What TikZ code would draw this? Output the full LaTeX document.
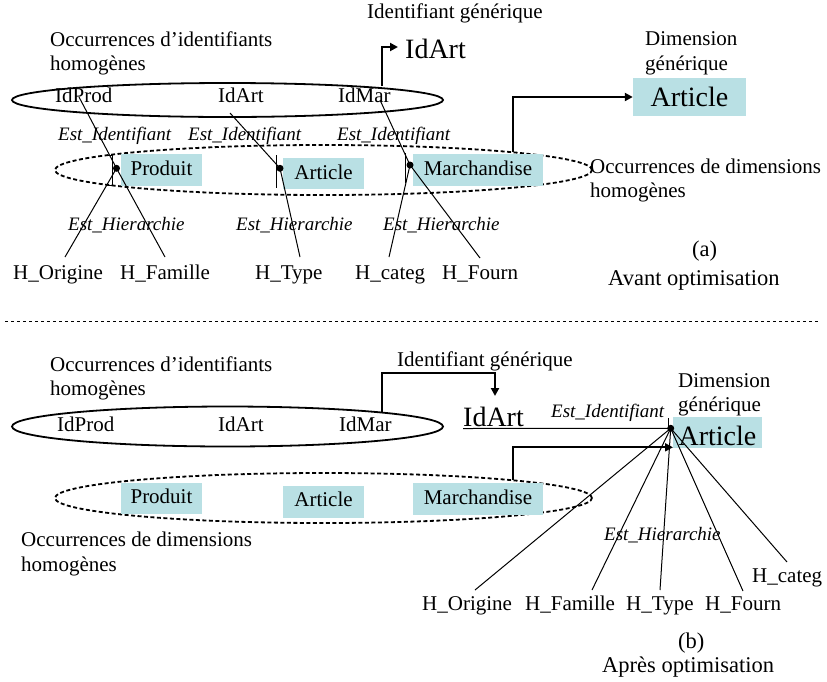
\documentclass[tikz,border=0pt]{standalone}
\usepackage{fontspec}
\setmainfont{Liberation Serif}
\usetikzlibrary{arrows.meta}
\definecolor{boxcol}{RGB}{185,224,228}
\begin{document}
\begin{tikzpicture}[x=1pt,y=-1pt,
  lab/.style={anchor=base west, inner sep=0pt, font=\fontsize{21}{24}\selectfont},
  rel/.style={anchor=base west, inner sep=0pt, font=\fontsize{19}{21}\selectfont\itshape},
  bigl/.style={anchor=base west, inner sep=0pt, font=\fontsize{28}{32}\selectfont},
  capt/.style={anchor=base west, inner sep=0pt, font=\fontsize{22.5}{26}\selectfont},
  dimbox/.style={fill=boxcol, anchor=base, inner xsep=0pt, inner ysep=0pt, text height=21pt, text depth=11pt, font=\fontsize{21}{24}\selectfont},
  bigbox/.style={dimbox, text height=28pt, font=\fontsize{28}{32}\selectfont},
  thinln/.style={line width=1pt},
  heavy/.style={line width=2.3pt, -{Triangle[length=8pt,width=8pt]}},
  solidell/.style={line width=1.8pt},
  dashell/.style={line width=1.8pt, dash pattern=on 4pt off 2.5pt},
  sepline/.style={line width=0.8pt, dash pattern=on 3pt off 3pt},
  jdot/.style={circle, fill=black, inner sep=0pt, minimum size=7pt}
]
\useasboundingbox (0,0) rectangle (827,681);

% ================= (a) =================
\draw[solidell] (227.5,100) ellipse [x radius=215.5pt, y radius=17pt];
\draw[dashell] (323.5,170) ellipse [x radius=268.5pt, y radius=25pt];

\node[lab] (occA1) at (50,46.5) {Occurrences d’identifiants};
\node[lab] (occA2) at (50,70) {homogènes};
\node[lab] (idgA) at (367,18) {Identifiant générique};
\node[bigl] (idartA) at (405,58.3) {IdArt};

\node[lab] (idprodA) at (55,102.3) {IdProd};
\node[lab] (idartsA) at (218,102.3) {IdArt};
\node[lab] (idmarA) at (338,102.3) {IdMar};

\node[rel] (eiA1) at (58,140.7) {Est\_Identifiant};
\node[rel] (eiA2) at (188,140.7) {Est\_Identifiant};
\node[rel] (eiA3) at (337,140.7) {Est\_Identifiant};

\node[dimbox, minimum width=81pt] (prodA) at (161.5,175) {Produit};
\node[dimbox, minimum width=81pt, text height=21.3pt, text depth=9.7pt] (artA) at (323.5,179.3) {Article};
\node[dimbox, minimum width=130pt] (marA) at (478,175) {Marchandise};

\node[lab] (dimA1) at (645,45) {Dimension};
\node[lab] (dimA2) at (645,70.7) {générique};
\node[bigbox, minimum width=113pt, text depth=10pt] (bigA) at (689.5,106) {Article};

\node[lab] (odA1) at (590,173) {Occurrences de dimensions};
\node[lab] (odA2) at (590,197) {homogènes};

\node[rel] (ehA1) at (68,230) {Est\_Hierarchie};
\node[rel] (ehA2) at (236,230) {Est\_Hierarchie};
\node[rel] (ehA3) at (383,230) {Est\_Hierarchie};

\node[lab] (hOrigA) at (13,279.3) {H\_Origine};
\node[lab] (hFamA) at (120,279.3) {H\_Famille};
\node[lab] (hTypeA) at (255,279.3) {H\_Type};
\node[lab] (hCatA) at (355,279.3) {H\_categ};
\node[lab] (hFourA) at (442,279.3) {H\_Fourn};

\node[capt] (capA) at (692,256.7) {(a)};
\node[capt] (avant) at (608,285) {Avant optimisation};

% joints
\node[jdot] (jP) at (116.5,168.3) {};
\node[jdot] (jA) at (280,168.3) {};
\node[jdot] (jM) at (410,165) {};
\draw[thinln] (108.3,155) -- (112.7,155) -- (112.7,185) -- (108.3,185);
\draw[thinln] (276,155) -- (276,188);
\draw[thinln] (405,153) -- (405,183);

\coordinate (sP) at (79,97);
\coordinate (sA) at (230,113);
\coordinate (sM) at (380,100);
\draw[thinln] (sP) -- (jP.center);
\draw[thinln] (sA) -- (jA.center);
\draw[thinln] (sM) -- (jM.center);

\coordinate (eOrigA) at (65,257);
\coordinate (eFamA) at (165,257);
\coordinate (eTypeA) at (300,257);
\coordinate (eCatA) at (389,257);
\coordinate (eFourA) at (480,258);
\draw[thinln] (jP.center) -- (eOrigA);
\draw[thinln] (jP.center) -- (eFamA);
\draw[thinln] (jA.center) -- (eTypeA);
\draw[thinln] (jM.center) -- (eCatA);
\draw[thinln] (jM.center) -- (eFourA);

% thick arrows
\coordinate (ellAtop) at (382,86);
\coordinate (tipA1) at (398,47);
\draw[heavy] (ellAtop) |- (tipA1);
\coordinate (dellAtop) at (513,152);
\draw[heavy] (dellAtop) |- (bigA.west);

% separator
\coordinate (sepL) at (5,321);
\coordinate (sepR) at (818,321);
\draw[sepline] (sepL) -- (sepR);

% ================= (b) =================
\draw[solidell] (227.5,426.5) ellipse [x radius=215.5pt, y radius=20pt];
\draw[dashell] (323.5,498) ellipse [x radius=268.5pt, y radius=25pt];

\node[lab] (occB1) at (50,371.7) {Occurrences d’identifiants};
\node[lab] (occB2) at (50,395) {homogènes};
\node[lab] (idgB) at (397,366) {Identifiant générique};

\node[lab] (idprodB) at (57,431.7) {IdProd};
\node[lab] (idartsB) at (218,431.7) {IdArt};
\node[lab] (idmarB) at (339,431.7) {IdMar};

\node[bigl] (idartB) at (463,426.7) {IdArt};
\node[rel] (eiB) at (551,417.3) {Est\_Identifiant};

\node[lab] (dimB1) at (678,387.3) {Dimension};
\node[lab] (dimB2) at (678,411.7) {générique};
\node[bigbox, minimum width=89pt, text depth=3pt] (bigB) at (717.5,445) {Article};

\node[dimbox, minimum width=81pt, text height=20.3pt, text depth=10.7pt] (prodB) at (161.5,503.3) {Produit};
\node[dimbox, minimum width=81pt, text height=20.7pt, text depth=11.3pt] (artB) at (323.5,506.7) {Article};
\node[dimbox, minimum width=130pt] (marB) at (478,504) {Marchandise};

\node[lab] (odB1) at (21,546.7) {Occurrences de dimensions};
\node[lab] (odB2) at (21,571.7) {homogènes};

\node[rel] (ehB) at (604,540) {Est\_Hierarchie};

\node[lab] (hCatB) at (752,582.7) {H\_categ};
\node[lab] (hOrigB) at (422,610.7) {H\_Origine};
\node[lab] (hFamB) at (525,610.7) {H\_Famille};
\node[lab] (hTypeB) at (626,610.7) {H\_Type};
\node[lab] (hFourB) at (705,610.7) {H\_Fourn};

\node[capt] (capB) at (678,648.3) {(b)};
\node[capt] (apres) at (602,672.7) {Après optimisation};

% joint
\node[jdot] (jB) at (670.7,428.3) {};
\draw[thinln] (668,418) -- (668,428);
\draw[thinln] ([yshift=-1.8pt]idartB.base west) -- (jB.center);

\coordinate (eOrigB) at (475,590);
\coordinate (eFamB) at (592,590);
\coordinate (eTypeB) at (660,590);
\coordinate (eFourB) at (743,591);
\coordinate (eCatB) at (787,562);
\foreach \e in {eOrigB,eFamB,eTypeB,eFourB,eCatB}
  \draw[thinln] (jB.center) -- (\e);

% thick arrows
\coordinate (ellBtop) at (382,412);
\coordinate (turnB) at (495,373);
\coordinate (tipB1) at (495,396);
\draw[heavy] (ellBtop) |- (turnB) -- (tipB1);
\coordinate (dellBtop) at (513,480);
\coordinate (tipB2) at (673,447.3);
\draw[heavy] (dellBtop) |- (tipB2);
\end{tikzpicture}
\end{document}
